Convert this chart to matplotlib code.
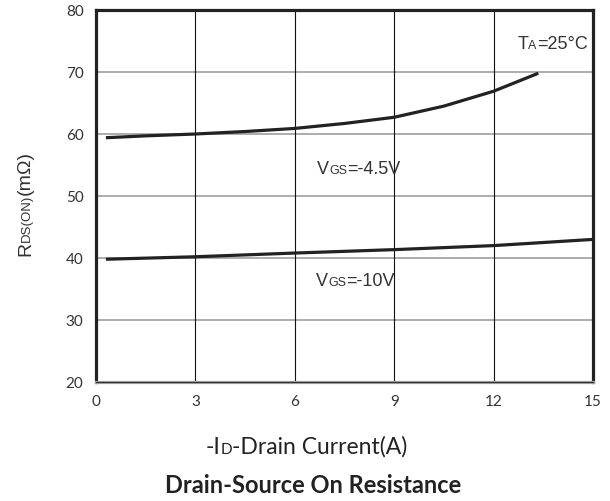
import matplotlib

matplotlib.use("Agg")
import matplotlib.pyplot as plt

# -ID drain current (A) vs RDS(ON) (mOhm), TA = 25 C
id_vgs45 = [0.3, 1.5, 3, 4.5, 6, 7.5, 9, 10.5, 12, 13.35]
rds_vgs45 = [59.4, 59.7, 60.0, 60.4, 60.9, 61.7, 62.7, 64.5, 66.9, 69.8]

id_vgs10 = [0.3, 3, 6, 9, 12, 15]
rds_vgs10 = [39.8, 40.2, 40.8, 41.35, 42.0, 43.0]

x_ticks = [0, 3, 6, 9, 12, 15]
y_ticks = [20, 30, 40, 50, 60, 70, 80]

W, H = 610, 502
fig = plt.figure(figsize=(W / 100, H / 100), dpi=100)
ax = fig.add_axes([96 / W, 1 - 383 / H, (593 - 96) / W, (383 - 11) / H])

ax.set_xlim(0, 15)
ax.set_ylim(20, 80)
ax.set_xticks(x_ticks)
ax.set_yticks(y_ticks)
ax.tick_params(length=0, labelsize=11, colors="#333333", pad=9)
for lbl in ax.get_xticklabels() + ax.get_yticklabels():
    lbl.set_family("Lato")

# grid: gray horizontal, thin black vertical
for yv in y_ticks[1:-1]:
    ax.axhline(yv, color="#a6a6a6", lw=1.3, zorder=1)
for xv in x_ticks[1:-1]:
    ax.axvline(xv, color="#111111", lw=0.8, zorder=1)

for side in ("left", "top", "right"):
    ax.spines[side].set_linewidth(2.3)
    ax.spines[side].set_color("#222222")
ax.spines["bottom"].set_linewidth(2.3)
ax.spines["bottom"].set_color("#a0a0a0")
ax.axhline(20, color="#333333", lw=0.8, zorder=4, clip_on=False)

ax.plot(id_vgs45, rds_vgs45, color="#222222", lw=2.3, solid_capstyle="butt", zorder=3)
ax.plot(id_vgs10, rds_vgs10, color="#222222", lw=2.3, solid_capstyle="butt", zorder=3)

fig.canvas.draw()
renderer = fig.canvas.get_renderer()


def rich(x, y, parts, rotation=0, **kw):
    """Draw text pieces (string, size) one after another on a shared baseline.
    x, y in figure fraction."""
    for s, size in parts:
        t = fig.text(x, y, s, fontsize=size, rotation=rotation, rotation_mode="anchor",
                     ha="left", va="baseline", **kw)
        bb = t.get_window_extent(renderer)
        if rotation == 90:
            y += bb.height / H
        else:
            x += bb.width / W


def data_to_fig(x, y):
    px = ax.transData.transform((x, y))
    return fig.transFigure.inverted().transform(px)


arial = dict(family="Liberation Sans", color="#333333")
fx, fy = data_to_fig(12.72, 73.9)
rich(fx, fy, [("T", 13), ("A", 9), ("=25°C", 13)], **arial)
fx, fy = data_to_fig(6.68, 53.7)
rich(fx, fy, [("V", 13), ("GS", 9), ("=-4.5V", 13)], **arial)
fx, fy = data_to_fig(6.65, 35.7)
rich(fx, fy, [("V", 13), ("GS", 9), ("=-10V", 13)], **arial)

calibri = dict(family="Lato", color="#222222")
rich(206 / W, 1 - 454 / H, [("-I", 16.5), ("D", 11), ("-Drain Current(A)", 16.5)], **calibri)
fig.text(313 / W, 1 - 493 / H, "Drain-Source On Resistance", ha="center", va="baseline",
         fontsize=17, fontweight="bold", **calibri)

rich(30 / W, 1 - 256 / H, [("R", 14), ("DS(ON)", 9.5), ("(mΩ)", 14)], rotation=90, **arial)

fig.savefig("out.png", dpi=100)
